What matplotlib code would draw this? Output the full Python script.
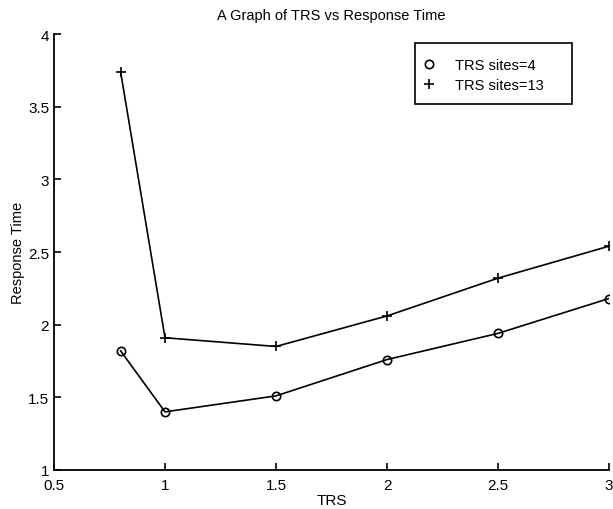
import matplotlib
matplotlib.use("Agg")
import matplotlib.pyplot as plt
from matplotlib.patches import Rectangle

plt.rcParams['font.family'] = ['Liberation Sans', 'DejaVu Sans']

trs = [0.8, 1.0, 1.5, 2.0, 2.5, 3.0]
resp_sites4 = [1.82, 1.40, 1.51, 1.76, 1.94, 2.18]
resp_sites13 = [3.74, 1.91, 1.85, 2.06, 2.32, 2.54]

xticks = [0.5, 1, 1.5, 2, 2.5, 3]
xticklabels = ['0.5', '1', '1.5', '2', '2.5', '3']
yticks = [1, 1.5, 2, 2.5, 3, 3.5, 4]
yticklabels = ['1', '1.5', '2', '2.5', '3', '3.5', '4']

W, H = 613, 510
fig = plt.figure(figsize=(W / 100, H / 100), dpi=100)
ax = fig.add_axes([54 / W, 1 - 471 / H, 555 / W, 436 / H])

ax.plot(trs, resp_sites4, color='black', lw=1.2, marker='o', ms=6,
        mfc='none', mew=1.2, label='TRS sites=4')
ax.plot(trs, resp_sites13, color='black', lw=1.2, marker='+', ms=7,
        mew=1.2, label='TRS sites=13')

ax.set_xlim(0.5, 3)
ax.set_ylim(1, 4)
ax.set_xticks(xticks)
ax.set_xticklabels(xticklabels)
ax.set_yticks(yticks)
ax.set_yticklabels(yticklabels)
ax.tick_params(direction='in', length=5, width=1.2, labelsize=11)
ax.tick_params(axis='x', pad=5.5)
ax.tick_params(axis='y', pad=3.5)

for side in ('top', 'right'):
    ax.spines[side].set_visible(False)
for side in ('left', 'bottom'):
    ax.spines[side].set_linewidth(1.3)

ax.set_title('A Graph of TRS vs Response Time', fontsize=10.5, pad=11)
ax.set_xlabel('TRS', fontsize=11, labelpad=1)
ax.set_ylabel('Response Time', fontsize=10.5, labelpad=2)

# legend entries without their own frame; a plain box is drawn around them
leg = ax.legend(loc='upper left', bbox_to_anchor=(422 / W, 1 - 59 / H),
                bbox_transform=fig.transFigure, fontsize=10.5, frameon=False,
                numpoints=1, handlelength=1.0, handletextpad=1.25,
                borderpad=0, labelspacing=0.4, borderaxespad=0)
for h in leg.get_lines():
    h.set_linestyle('none')
fig.add_artist(Rectangle((415 / W, 1 - 105 / H), 157 / W, 61 / H,
                         transform=fig.transFigure, fill=False,
                         edgecolor='black', lw=1.2))

fig.savefig('out.png', dpi=100)
